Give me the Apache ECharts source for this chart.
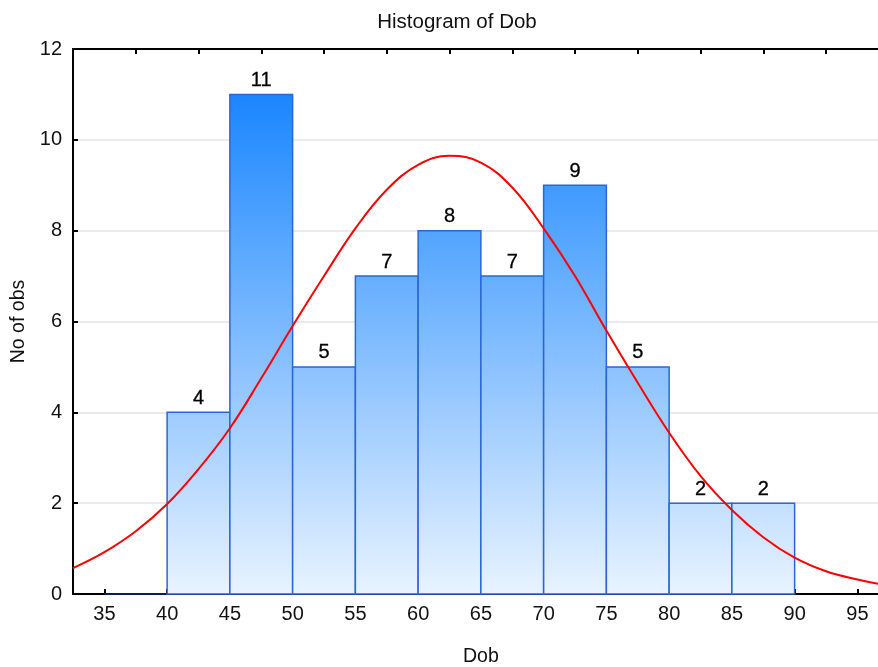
<!DOCTYPE html>
<html>
<head>
<meta charset="utf-8">
<script src="https://cdn.jsdelivr.net/npm/echarts@6/dist/echarts.min.js"></script>
<style>html,body{margin:0;padding:0;background:#fff}#c{width:878px;height:667px}</style>
</head>
<body>
<div id="c"></div>
<script>
// Histogram bins (lower, upper) and counts
const binLower = [35, 40, 45, 50, 55, 60, 65, 70, 75, 80, 85];
const binUpper = [40, 45, 50, 55, 60, 65, 70, 75, 80, 85, 90];
const counts   = [0, 4, 11, 5, 7, 8, 7, 9, 5, 2, 2];
// Fitted normal curve
const curveX = [32.5, 35, 37.5, 40, 42.5, 45, 47.5, 50, 52.5, 55, 57.5, 60, 62.5, 65, 67.5, 70, 72.5, 75, 77.5, 80, 82.5, 85, 87.5, 90, 92.5, 95, 97.5];
const curveY = [0.57, 0.92, 1.38, 1.98, 2.75, 3.65, 4.75, 5.9, 7.0, 8.05, 8.9, 9.45, 9.65, 9.5, 8.95, 8.05, 7.0, 5.8, 4.65, 3.55, 2.6, 1.85, 1.25, 0.8, 0.5, 0.32, 0.18];
const xTickLabels = [35, 40, 45, 50, 55, 60, 65, 70, 75, 80, 85, 90, 95];

const FONT = '"Liberation Sans", Arial, sans-serif';
const chart = echarts.init(document.getElementById('c'), null, {renderer: 'canvas'});

const barData = binLower.map((lo, i) => [lo, binUpper[i], counts[i]]);

chart.setOption({
  animation: false,
  backgroundColor: '#ffffff',
  title: {
    text: 'Histogram of Dob',
    left: 452, textAlign: 'center', top: 7,
    textStyle: {fontFamily: FONT, fontSize: 20.5, fontWeight: 'normal', color: '#111'}
  },
  grid: {left: 73, top: 49, bottom: 73, right: -10.75, containLabel: false, outerBoundsMode: 'none'},
  xAxis: [{
    type: 'value', position: 'bottom', min: 32.5, max: 97.5,
    name: 'Dob', nameLocation: 'middle', nameGap: 53,
    nameTextStyle: {fontFamily: FONT, fontSize: 19.5, color: '#111'},
    axisLine: {show: true, onZero: false, lineStyle: {color: '#000', width: 2}},
    axisTick: {show: true, inside: true, length: 5, customValues: xTickLabels, lineStyle: {color: '#000', width: 2}},
    axisLabel: {show: true, customValues: xTickLabels, margin: 10, fontFamily: FONT, fontSize: 20, color: '#111'},
    splitLine: {show: false}
  }, {
    type: 'value', position: 'top', min: 32.5, max: 97.5, interval: 5,
    axisLine: {show: true, onZero: false, lineStyle: {color: '#000', width: 2}},
    axisTick: {show: true, inside: true, length: 5, lineStyle: {color: '#000', width: 2}},
    axisLabel: {show: false},
    splitLine: {show: false}
  }],
  yAxis: {
    type: 'value', min: 0, max: 12, interval: 2,
    name: 'No of obs', nameLocation: 'middle', nameGap: 44,
    nameTextStyle: {fontFamily: FONT, fontSize: 19.5, color: '#111'},
    axisLine: {show: true, lineStyle: {color: '#000', width: 2}},
    axisTick: {show: true, inside: true, length: 5, lineStyle: {color: '#000', width: 2}},
    axisLabel: {margin: 11, fontFamily: FONT, fontSize: 20, color: '#111'},
    splitLine: {show: true, lineStyle: {color: '#e3e3e3', width: 1.5}}
  },
  series: [{
    type: 'custom',
    xAxisIndex: 0,
    data: barData,
    renderItem: function (params, api) {
      const lo = api.value(0), hi = api.value(1), c = api.value(2);
      const p0 = api.coord([lo, 0]);
      const p1 = api.coord([hi, c]);
      const yBase = api.coord([lo, 0])[1];
      const yTop = api.coord([lo, 12])[1];
      const grad = new echarts.graphic.LinearGradient(0, yTop, 0, yBase, [
        {offset: 0, color: '#0a7aff'},
        {offset: 1 / 12, color: '#1a86ff'},
        {offset: 1, color: '#e8f3ff'}
      ], true);
      const children = [{
        type: 'rect',
        shape: {x: p0[0], y: p1[1], width: p1[0] - p0[0], height: p0[1] - p1[1]},
        style: {fill: grad, stroke: c === 0 ? '#0a2a6a' : '#2a66d6', lineWidth: 1.5}
      }];
      if (c > 0) {
        children.push({
          type: 'text',
          x: (p0[0] + p1[0]) / 2, y: p1[1] - 4,
          style: {text: String(c), fill: '#000', font: '20px ' + FONT, align: 'center', verticalAlign: 'bottom', stroke: '#000', lineWidth: 0.3}
        });
      }
      return {type: 'group', children: children};
    },
    z: 2
  }, {
    type: 'line',
    xAxisIndex: 0,
    data: curveX.map((x, i) => [x, curveY[i]]),
    smooth: 0.4,
    showSymbol: false,
    lineStyle: {color: '#ff0000', width: 2},
    z: 3
  }]
});
</script>
</body>
</html>
